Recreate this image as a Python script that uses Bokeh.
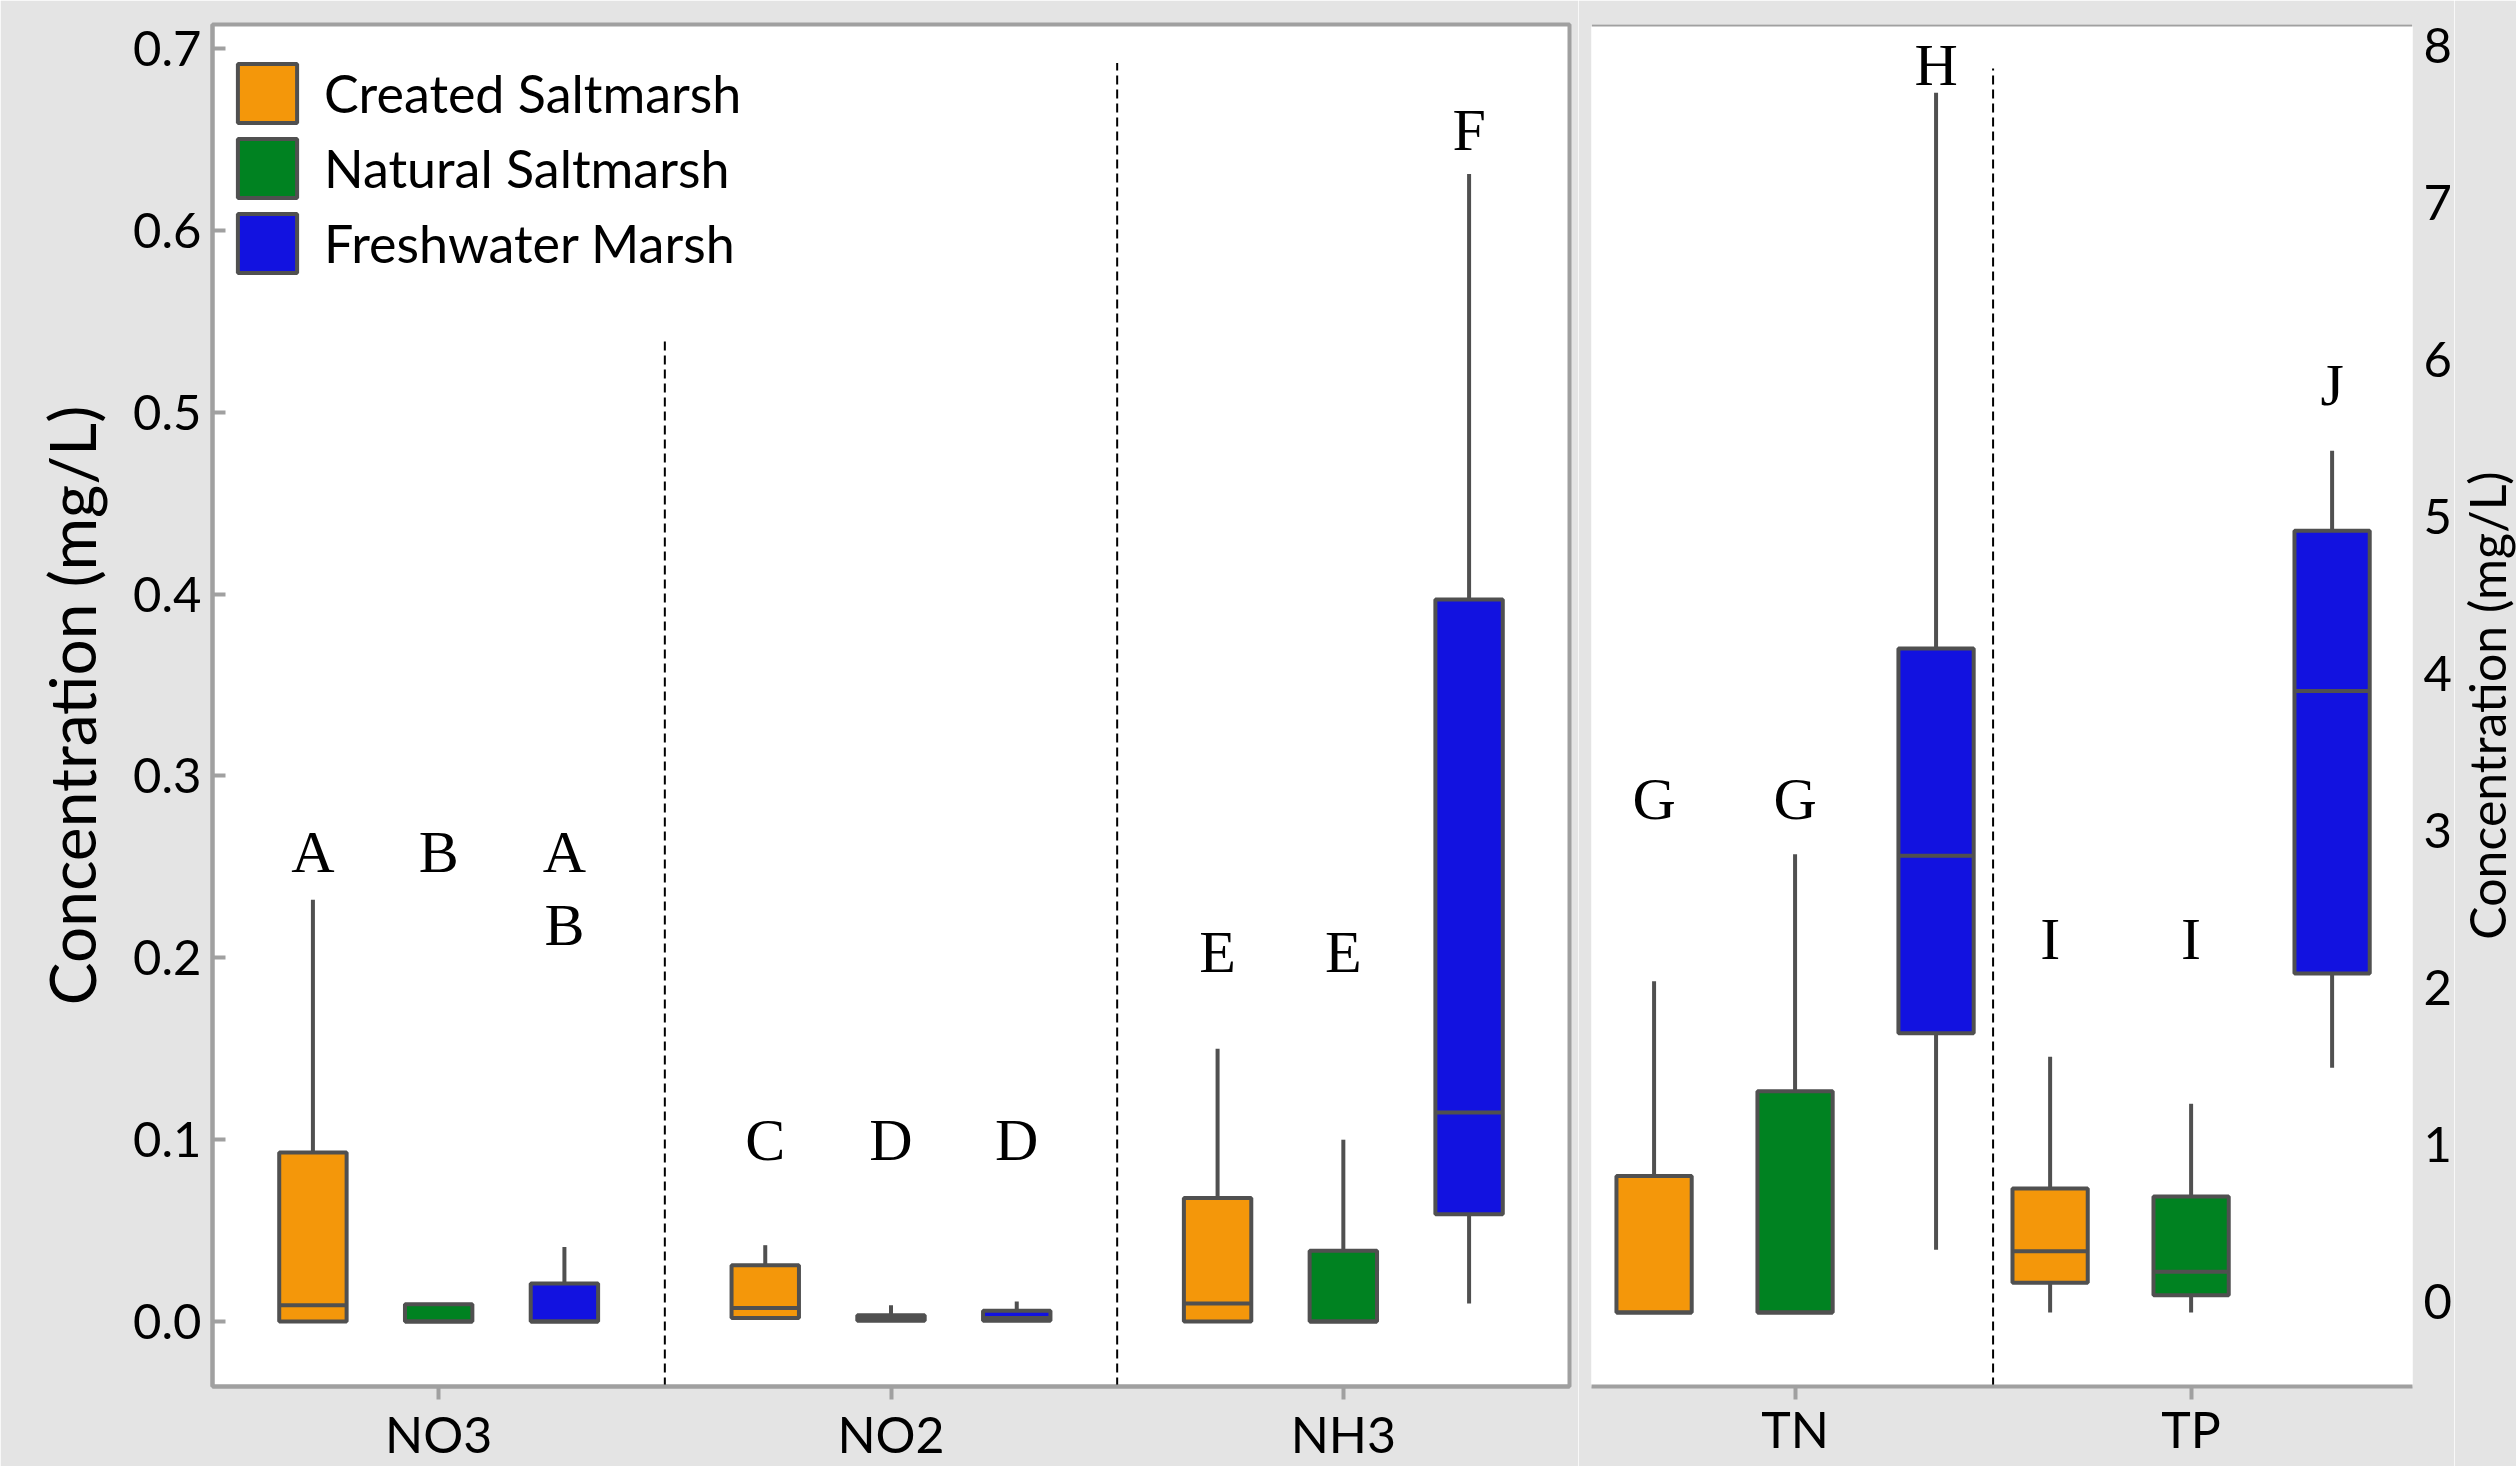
from bokeh.plotting import figure
from bokeh.layouts import row
from bokeh.models import (ColumnDataSource, Range1d, FixedTicker, Legend, LegendItem,
                          LabelSet, Span)
from bokeh.embed import file_html
from bokeh.resources import INLINE

# ---------------- data ----------------
groups = ["Created Saltmarsh", "Natural Saltmarsh", "Freshwater Marsh"]

left_categories = ["NO3", "NO2", "NH3"]
# per category: [whisker low, Q1, median, Q3, whisker high]
created_left = [[0.000, 0.000, 0.009, 0.093, 0.232],
                [0.002, 0.002, 0.0075, 0.031, 0.042],
                [0.000, 0.000, 0.010, 0.068, 0.150]]
natural_left = [[0.000, 0.000, 0.000, 0.0095, 0.0095],
                [0.0005, 0.0005, 0.0015, 0.0035, 0.009],
                [0.000, 0.000, 0.000, 0.039, 0.100]]
fresh_left = [[0.000, 0.000, 0.000, 0.021, 0.041],
              [0.0005, 0.0005, 0.002, 0.006, 0.011],
              [0.010, 0.059, 0.115, 0.397, 0.631]]

right_categories = ["TN", "TP"]
created_right = [[-0.07, -0.07, -0.07, 0.80, 2.04],
                 [-0.07, 0.12, 0.32, 0.72, 1.56]]
natural_right = [[-0.07, -0.07, -0.07, 1.34, 2.85],
                 [-0.07, 0.04, 0.19, 0.67, 1.26]]
fresh_right = [[0.33, 1.71, 2.84, 4.16, 7.70],
               [1.49, 2.09, 3.89, 4.91, 5.42]]

left_letters = ["A", "B", "A", "B", "C", "D", "D", "E", "E", "F"]
left_letter_cat = [0, 0, 0, 0, 1, 1, 1, 2, 2, 2]
left_letter_grp = [0, 1, 2, 2, 0, 1, 2, 0, 1, 2]
left_letter_y = [0.258, 0.258, 0.258, 0.218, 0.100, 0.100, 0.100, 0.203, 0.203, 0.655]

right_letters = ["G", "G", "H", "I", "I", "J"]
right_letter_cat = [0, 0, 0, 1, 1, 1]
right_letter_grp = [0, 1, 2, 0, 1, 2]
right_letter_y = [3.20, 3.20, 7.88, 2.31, 2.31, 5.84]

left_ticks = [0.0, 0.1, 0.2, 0.3, 0.4, 0.5, 0.6, 0.7]
left_tick_labels = ["0.0", "0.1", "0.2", "0.3", "0.4", "0.5", "0.6", "0.7"]
right_ticks = [0, 1, 2, 3, 4, 5, 6, 7, 8]
right_tick_labels = ["0", "1", "2", "3", "4", "5", "6", "7", "8"]
y_title = "Concentration (mg/L)"

# ---------------- style ----------------
colors = ["#f4970a", "#008221", "#1212e0"]
EDGE = "#505050"
FRAME = "#a0a0a0"
BG = "#e4e4e4"
SANS = "Lato"
SERIF = "Liberation Serif"
LW = 4
H = 1466
TOP = 24
BOTTOM = 79


def draw_boxes(p, stats_groups, offsets, width):
    rends = []
    for gi, stats in enumerate(stats_groups):
        xs = [ci + 0.5 + offsets[gi] for ci in range(len(stats))]
        lo, q1, med, q3, hi = (list(v) for v in zip(*stats))
        src = ColumnDataSource(dict(x=xs, lo=lo, q1=q1, med=med, q3=q3, hi=hi,
                                    xl=[x - width / 2 for x in xs],
                                    xr=[x + width / 2 for x in xs]))
        p.segment(x0="x", y0="q3", x1="x", y1="hi", source=src, line_color=EDGE, line_width=LW)
        p.segment(x0="x", y0="lo", x1="x", y1="q1", source=src, line_color=EDGE, line_width=LW)
        r = p.vbar(x="x", width=width, bottom="q1", top="q3", source=src,
                   fill_color=colors[gi], line_color=EDGE, line_width=LW)
        p.segment(x0="xl", y0="med", x1="xr", y1="med", source=src, line_color=EDGE, line_width=LW)
        rends.append(r)
    return rends


def letters(p, txt, cat, grp, ys, offsets):
    src = ColumnDataSource(dict(x=[c + 0.5 + offsets[g] for c, g in zip(cat, grp)], y=ys, t=txt))
    p.add_layout(LabelSet(x="x", y="y", text="t", source=src, text_font=SERIF,
                          text_font_size="60px", text_align="center",
                          text_baseline="middle", text_color="black"))


def style_xaxis(ax, cats, standoff):
    ticks = [i + 0.5 for i in range(len(cats))]
    ax.ticker = FixedTicker(ticks=ticks)
    ax.major_label_overrides = {t: c for t, c in zip(ticks, cats)}
    ax.major_label_text_font = SANS
    ax.major_label_text_font_size = "50px"
    ax.major_label_text_color = "black"
    ax.major_label_standoff = standoff
    ax.axis_line_color = FRAME
    ax.axis_line_width = 4
    ax.major_tick_line_color = FRAME
    ax.major_tick_line_width = 4
    ax.major_tick_in = 0
    ax.major_tick_out = 13
    ax.minor_tick_line_color = None


# ---------------- left panel ----------------
L_Y0, L_Y1 = -0.0357, 0.7132
p1 = figure(width=1578, height=H, output_backend="svg", toolbar_location=None,
            x_range=Range1d(0, 3), y_range=Range1d(L_Y0, L_Y1),
            min_border_left=212, min_border_right=9, min_border_top=TOP, min_border_bottom=BOTTOM)
p1.background_fill_color = "white"
p1.border_fill_color = BG
p1.outline_line_color = FRAME
p1.outline_line_width = 4
p1.grid.visible = False

loff = [-0.278, 0.0, 0.278]
lrends = draw_boxes(p1, [created_left, natural_left, fresh_left], loff, 0.149)

p1.segment(x0=[1.0, 2.0], y0=[L_Y0, L_Y0], x1=[1.0, 2.0], y1=[0.540, 0.692],
           line_color="black", line_width=2, line_dash="9 5")

letters(p1, left_letters, left_letter_cat, left_letter_grp, left_letter_y, loff)

style_xaxis(p1.xaxis[0], left_categories, 4)
ya = p1.yaxis[0]
ya.ticker = FixedTicker(ticks=left_ticks)
ya.major_label_overrides = {t: s for t, s in zip(left_ticks, left_tick_labels)}
ya.axis_line_color = FRAME
ya.axis_line_width = 4
ya.major_tick_line_color = FRAME
ya.major_tick_line_width = 4
ya.major_tick_in = 13
ya.major_tick_out = 0
ya.minor_tick_line_color = None
ya.major_label_standoff = 11
ya.major_label_text_font = SANS
ya.major_label_text_font_size = "49px"
ya.major_label_text_color = "black"
ya.axis_label = y_title
ya.axis_label_text_font = SANS
ya.axis_label_text_font_size = "64px"
ya.axis_label_text_font_style = "normal"
ya.axis_label_text_color = "black"
ya.axis_label_standoff = 20

legend = Legend(items=[LegendItem(label=g, renderers=[r]) for g, r in zip(groups, lrends)],
                location=(18, 1106), margin=0, padding=0, spacing=1,
                glyph_width=74, glyph_height=74, label_height=62, label_standoff=20,
                label_text_font=SANS, label_text_font_size="52px", label_text_color="black",
                border_line_color=None, background_fill_alpha=0)
p1.add_layout(legend)

# ---------------- right panel ----------------
R_Y0, R_Y1 = -0.541, 8.135
R_X0, R_X1 = -0.014, 2.059
p2 = figure(width=876, height=H, output_backend="svg", toolbar_location=None,
            x_range=Range1d(R_X0, R_X1), y_range=Range1d(R_Y0, R_Y1), y_axis_location="right",
            min_border_left=13, min_border_right=40, min_border_top=TOP, min_border_bottom=BOTTOM)
p2.background_fill_color = "white"
p2.border_fill_color = BG
p2.outline_line_color = None
p2.grid.visible = False

roff = [-0.356, 0.0, 0.356]
draw_boxes(p2, [created_right, natural_right, fresh_right], roff, 0.19)

p2.segment(x0=[1.0], y0=[R_Y0], x1=[1.0], y1=[7.855],
           line_color="black", line_width=2, line_dash="9 5")
p2.add_layout(Span(location=R_Y1, dimension="width", line_color=FRAME, line_width=4))

letters(p2, right_letters, right_letter_cat, right_letter_grp, right_letter_y, roff)

style_xaxis(p2.xaxis[0], right_categories, -1)
ra = p2.yaxis[0]
ra.ticker = FixedTicker(ticks=right_ticks)
ra.major_label_overrides = {t: s for t, s in zip(right_ticks, right_tick_labels)}
ra.axis_line_color = None
ra.major_tick_line_color = None
ra.minor_tick_line_color = None
ra.major_tick_in = 0
ra.major_tick_out = 0
ra.major_label_standoff = 11
ra.major_label_text_font = SANS
ra.major_label_text_font_size = "49px"
ra.major_label_text_color = "black"

# ---------------- right-hand axis title strip ----------------
p3 = figure(width=62, height=H, output_backend="svg", toolbar_location=None,
            x_range=Range1d(0, 1), y_range=Range1d(0, 1), x_axis_location=None,
            min_border_left=61, min_border_right=0, min_border_top=TOP, min_border_bottom=BOTTOM)
p3.background_fill_color = BG
p3.border_fill_color = BG
p3.outline_line_color = None
p3.grid.visible = False
ta = p3.yaxis[0]
ta.ticker = FixedTicker(ticks=[])
ta.axis_line_color = None
ta.major_tick_line_color = None
ta.minor_tick_line_color = None
ta.major_tick_in = 0
ta.major_tick_out = 0
ta.major_label_standoff = 0
ta.axis_label = y_title
ta.axis_label_text_font = SANS
ta.axis_label_text_font_size = "50px"
ta.axis_label_text_font_style = "normal"
ta.axis_label_text_color = "black"
ta.axis_label_standoff = 0

layout = row(p1, p2, p3)
open("out.html", "w").write(file_html(layout, INLINE))
